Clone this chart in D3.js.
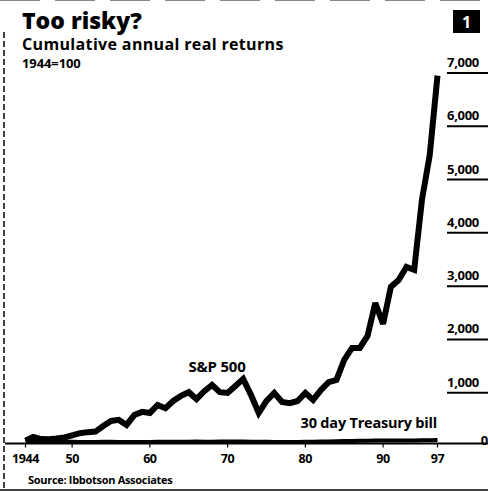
<!DOCTYPE html>
<html><head><meta charset="utf-8">
<script src="https://cdn.jsdelivr.net/npm/d3@7/dist/d3.min.js"></script>
<style>
html,body{margin:0;padding:0;background:#fff;}
svg{display:block;}
text{font-family:"Open Sans",sans-serif;font-weight:700;fill:#000;}
</style></head>
<body>
<script>
const years = d3.range(1944, 1998);
const sp500 = [100,170,130,125,140,160,200,240,260,270,375,470,490,395,580,640,620,770,710,845,
  940,1010,880,1030,1145,1010,995,1125,1260,960,620,845,995,825,805,845,995,865,1050,1200,
  1240,1615,1840,1840,2065,2685,2290,2985,3115,3360,3305,4620,5460,6950];
const tbill = [100,95,85,78,80,82,78,75,76,77,78,78,77,76,75,76,77,78,79,80,
  81,82,83,82,82,83,84,85,84,82,80,78,77,77,76,76,78,81,84,86,
  90,92,94,97,99,102,104,105,104,104,105,107,109,111];
const xTickYears = [1944,1950,1960,1970,1980,1990,1997];
const xTickLabels = ["1944","50","60","70","80","90","97"];
const yTicks = [0,1000,2000,3000,4000,5000,6000,7000];
const title = "Too risky?";
const subtitle = "Cumulative annual real returns";
const baseNote = "1944=100";
const source = "Source: Ibbotson Associates";

const W = 488, H = 492;
const svg = d3.select("body").append("svg").attr("width", W).attr("height", H);

const x = d3.scaleLinear().domain([1944, 1997]).range([25.5, 437.5]);
const y = d3.scaleLinear().domain([0, 7000]).range([446, 73]);

// frame
svg.append("line").attr("x1",4).attr("x2",4).attr("y1",32).attr("y2",490)
  .attr("stroke","#000").attr("stroke-width",1.5).attr("stroke-dasharray","6,3");
svg.append("line").attr("x1",0).attr("x2",W).attr("y1",490).attr("y2",490)
  .attr("stroke","#000").attr("stroke-width",1.5);
svg.append("line").attr("x1",0).attr("x2",W).attr("y1",0.5).attr("y2",0.5)
  .attr("stroke","#888").attr("stroke-width",1).attr("stroke-dasharray","40,15");

// titles
svg.append("text").attr("x",22).attr("y",29).attr("font-size",23).style("font-weight",800).text(title);
svg.append("text").attr("x",22).attr("y",50).attr("font-size",16).attr("letter-spacing",0.35).text(subtitle);
svg.append("text").attr("x",22).attr("y",68).attr("font-size",13).attr("letter-spacing",-0.1).text(baseNote);

// chart number box
svg.append("rect").attr("x",453).attr("y",10).attr("width",27).attr("height",23).attr("fill","#000");
svg.append("text").attr("x",466.5).attr("y",28).attr("text-anchor","middle").attr("font-size",16)
  .style("fill","#fff").text("1");

// y ticks: underlines + labels on the right
const yg = svg.append("g");
yTicks.filter(v => v > 0).forEach(v => {
  yg.append("line").attr("x1",447).attr("x2",W).attr("y1",y(v)).attr("y2",y(v))
    .attr("stroke","#000").attr("stroke-width",2);
});
yTicks.forEach(v => {
  yg.append("text").attr("x", v === 0 ? 488 : 447).attr("y", v === 0 ? y(v) - 1 : y(v) - 6)
    .attr("text-anchor", v === 0 ? "end" : "start").attr("font-size",13).attr("letter-spacing",-0.3)
    .text(d3.format(",")(v));
});

// baseline axis
svg.append("line").attr("x1",5).attr("x2",W).attr("y1",y(0)-2.5).attr("y2",y(0)-2.5)
  .attr("stroke","#000").attr("stroke-width",2);
xTickYears.forEach((yr,i) => {
  svg.append("line").attr("x1",x(yr)).attr("x2",x(yr)).attr("y1",y(0)-2.5).attr("y2",y(0)+1.5)
    .attr("stroke","#000").attr("stroke-width",1.2);
  svg.append("text").attr("x",x(yr)).attr("y",463).attr("text-anchor","middle")
    .attr("font-size",12.5).attr("letter-spacing",-0.4).text(xTickLabels[i]);
});

// lines
const line = d3.line().x((d,i) => x(years[i])).y(d => y(d));
svg.append("path").datum(tbill).attr("d", line).attr("fill","none")
  .attr("stroke","#000").attr("stroke-width",4);
svg.append("path").datum(sp500).attr("d", line).attr("fill","none")
  .attr("stroke","#000").attr("stroke-width",6).attr("stroke-linejoin","miter").attr("stroke-miterlimit",2.5);

// labels
svg.append("text").attr("x",217).attr("y",372).attr("text-anchor","middle").attr("font-size",15)
  .attr("letter-spacing",-0.2).text("S&P 500");
svg.append("text").attr("x",437).attr("y",428).attr("text-anchor","end").attr("font-size",14.5)
  .attr("letter-spacing",-0.2).text("30 day Treasury bill");
svg.append("text").attr("x",28).attr("y",484).attr("font-size",11).attr("letter-spacing",-0.3).text(source);
</script>
</body></html>
